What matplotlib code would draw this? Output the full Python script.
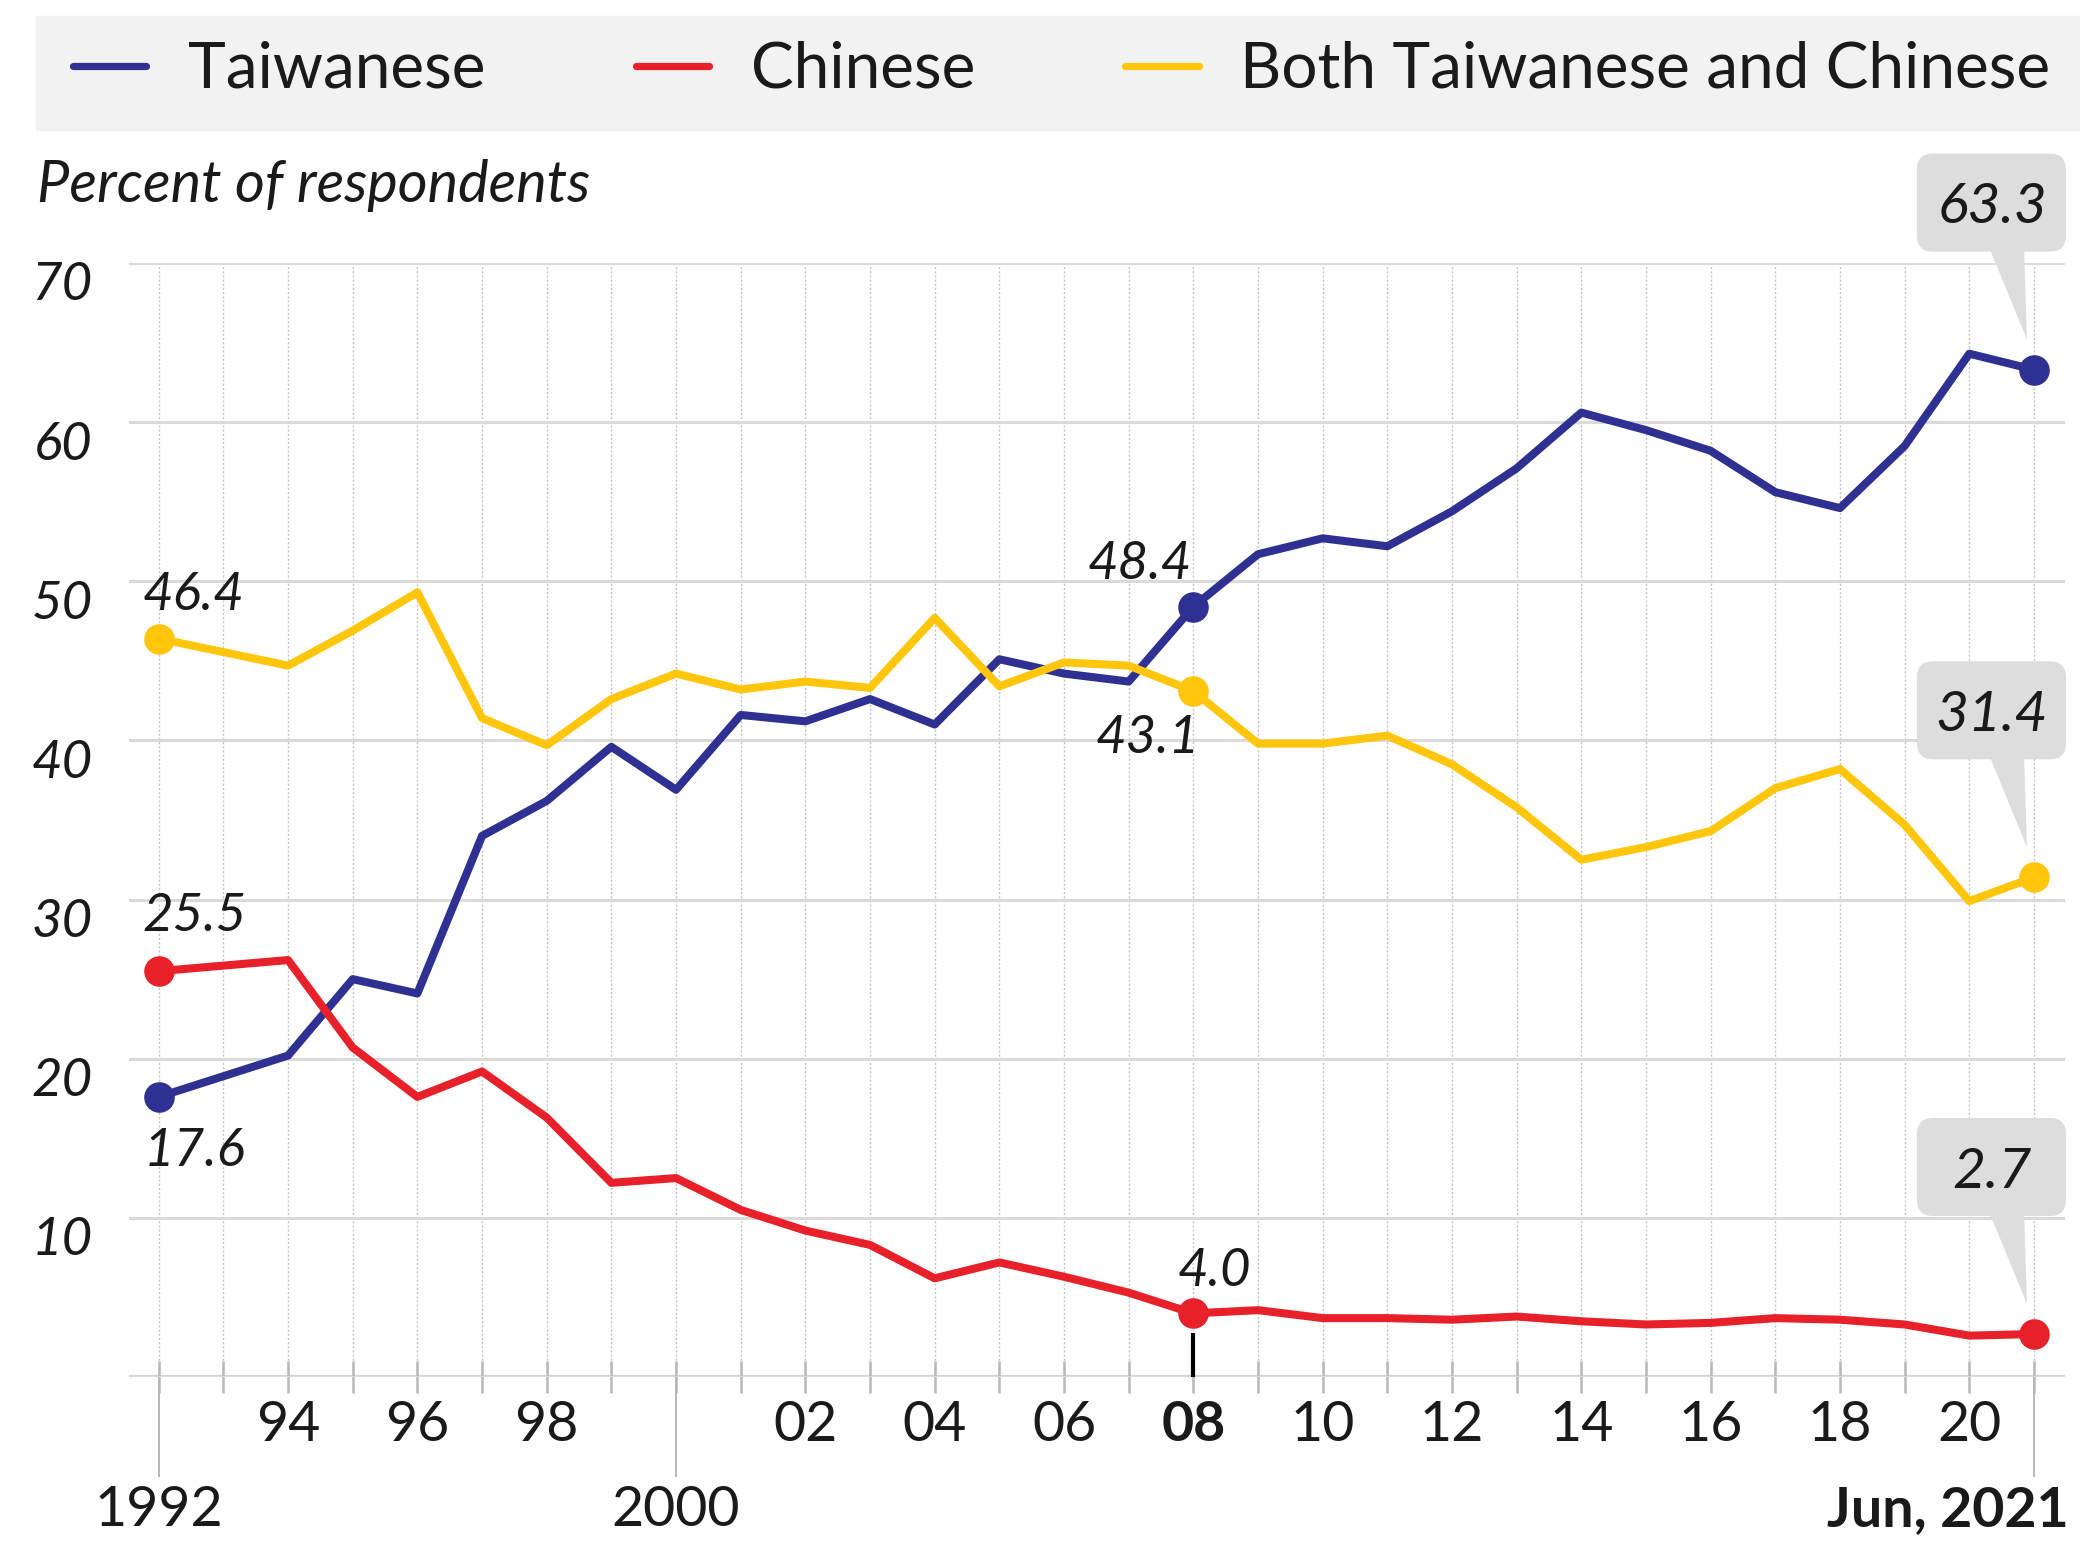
import matplotlib
matplotlib.use('Agg')
import matplotlib.pyplot as plt
import matplotlib.transforms as mtransforms
from matplotlib.patches import FancyBboxPatch, Polygon, Rectangle
from matplotlib.lines import Line2D

# survey years (no survey in 1993); last point is Jun 2021
years = [1992, 1994, 1995, 1996, 1997, 1998, 1999, 2000, 2001, 2002, 2003, 2004, 2005,
         2006, 2007, 2008, 2009, 2010, 2011, 2012, 2013, 2014, 2015, 2016, 2017, 2018,
         2019, 2020, 2021]
taiwanese = [17.6, 20.2, 25.0, 24.1, 34.0, 36.2, 39.6, 36.9, 41.6, 41.2, 42.6, 41.0, 45.1,
             44.2, 43.7, 48.4, 51.7, 52.7, 52.2, 54.4, 57.1, 60.6, 59.5, 58.2, 55.6, 54.6,
             58.5, 64.3, 63.3]
chinese = [25.5, 26.2, 20.7, 17.6, 19.2, 16.3, 12.2, 12.5, 10.5, 9.2, 8.3, 6.2, 7.2,
           6.3, 5.3, 4.0, 4.2, 3.7, 3.7, 3.6, 3.8, 3.5, 3.3, 3.4, 3.7, 3.6,
           3.3, 2.6, 2.7]
both = [46.4, 44.7, 46.9, 49.3, 41.4, 39.7, 42.6, 44.2, 43.2, 43.7, 43.3, 47.7, 43.4,
        44.9, 44.7, 43.1, 39.8, 39.8, 40.3, 38.5, 35.8, 32.5, 33.3, 34.3, 37.0, 38.2,
        34.7, 29.9, 31.4]

series_names = ['Taiwanese', 'Chinese', 'Both Taiwanese and Chinese']
colors = ['#2e3192', '#e8202a', '#ffc60b']

tick_years = [1992, 1993, 1994, 1995, 1996, 1997, 1998, 1999, 2000, 2001, 2002, 2003, 2004,
              2005, 2006, 2007, 2008, 2009, 2010, 2011, 2012, 2013, 2014, 2015, 2016, 2017,
              2018, 2019, 2020, 2021]
short_labels = {1994: '94', 1996: '96', 1998: '98', 2002: '02', 2004: '04', 2006: '06',
                2008: '08', 2010: '10', 2012: '12', 2014: '14', 2016: '16', 2018: '18',
                2020: '20'}
long_years = [1992, 2000, 2021]
long_labels = ['1992', '2000', 'Jun, 2021']
y_ticks = [0, 10, 20, 30, 40, 50, 60, 70]
highlight_year = 2008

TEXT = '#1a1a1a'
plt.rcParams['font.family'] = ['Lato', 'DejaVu Sans']

fig = plt.figure(figsize=(20.8, 15.42), dpi=100)
W, H = 2080, 1542
ax = fig.add_axes([129 / W, 1 - 1377 / H, (2065 - 129) / W, (1377 - 263) / H])
ax.set_xlim(1991.54, 2021.48)
ax.set_ylim(0, 70)
for s in ax.spines.values():
    s.set_visible(False)

# legend band
fig.add_artist(Rectangle((36 / W, 1 - 130 / H), 1 - 36 / W, 114 / H,
                         transform=fig.transFigure, color='#f2f2f2', zorder=0))
handles = [Line2D([], [], color=c, lw=5.2, solid_capstyle='round') for c in colors]
fig.legend(handles, series_names, loc='center left', bbox_to_anchor=(73 / W, 1 - 70 / H),
           ncol=3, frameon=False, fontsize=46, handlelength=1.15, handletextpad=0.65,
           columnspacing=2.35, borderpad=0, borderaxespad=0, labelcolor=TEXT)

fig.text(37 / W, 1 - 186 / H, 'Percent of respondents', style='italic', fontsize=41.5,
         color=TEXT, ha='left', va='center')

# grid
ax.set_yticks(y_ticks)
ax.grid(axis='y', color='#dadada', lw=2.2, zorder=0)
ax.axhline(0, color='#d4d4d4', lw=3, zorder=1)
ax.set_xticks(tick_years)
ax.grid(axis='x', which='major', color='#c4c4c4', lw=1.0, ls=(0, (1.5, 1.5)), zorder=0)
ax.set_xticks(long_years, minor=True)
ax.xaxis.remove_overlapping_locs = False

ax.tick_params(axis='y', length=0, pad=26, labelsize=38, labelcolor=TEXT)
ax.tick_params(axis='x', which='major', direction='inout', length=23, width=1.8,
               color='#b8b8b8', pad=5, labelsize=40, labelcolor=TEXT)
ax.tick_params(axis='x', which='minor', direction='out', length=72, width=1.4,
               color='#b8b8b8', pad=6, labelsize=40, labelcolor=TEXT)

ylabels = ax.set_yticklabels(['' if v == 0 else str(v) for v in y_ticks])
down = mtransforms.ScaledTranslation(0, -0.18, fig.dpi_scale_trans)
for lbl in ylabels:
    lbl.set_fontstyle('italic')
    lbl.set_transform(lbl.get_transform() + down)

xlabels = ax.set_xticklabels([short_labels.get(y, '') for y in tick_years])
for lbl in xlabels:
    if lbl.get_text() == short_labels[highlight_year]:
        lbl.set_fontweight('bold')
mlabels = ax.set_xticklabels(long_labels, minor=True)
mlabels[-1].set_fontweight('bold')
mlabels[-1].set_horizontalalignment('right')
mlabels[-1].set_transform(mlabels[-1].get_transform() +
                          mtransforms.ScaledTranslation(0.35, 0, fig.dpi_scale_trans))

# highlight tick for 2008
ax.vlines(highlight_year, 0, 2.76, color='black', lw=3, zorder=2)

# lines and markers
marked = [years.index(1992), years.index(highlight_year), len(years) - 1]
for vals, c in zip([taiwanese, chinese, both], colors):
    ax.plot(years, vals, color=c, lw=5.8, solid_joinstyle='round', solid_capstyle='round',
            zorder=3, clip_on=False)
    ax.plot([years[i] for i in marked], [vals[i] for i in marked], 'o', ms=21, color=c,
            zorder=4, clip_on=False)

# value labels (offsets in pixels)
label_offsets = [
    (both, 0, (35, 44)), (chinese, 0, (36, 55)), (taiwanese, 0, (36, -54)),
    (taiwanese, 1, (-54, 43)), (both, 1, (-46, -47)), (chinese, 1, (21, 42)),
]
for vals, k, off in label_offsets:
    i = marked[k]
    ax.annotate(f'{vals[i]:.1f}', (years[i], vals[i]), xytext=off, textcoords='offset pixels',
                ha='center', va='center', style='italic', fontsize=38, color=TEXT, zorder=6)


def callout(ax, x, y, text):
    trans = mtransforms.Affine2D() + mtransforms.ScaledTranslation(x, y, ax.transData)
    box = FancyBboxPatch((-117, 118), 149, 98, boxstyle='round,pad=0,rounding_size=16',
                         transform=trans, fc='#dddddd', ec='none', clip_on=False, zorder=5)
    tri = Polygon([(-46, 125), (-10, 125), (-7, 30)], closed=True, transform=trans,
                  fc='#dddddd', ec='none', clip_on=False, zorder=5)
    ax.add_artist(box)
    ax.add_artist(tri)
    ax.text(-42, 162, text, transform=trans, ha='center', va='center', style='italic',
            fontsize=41, color=TEXT, zorder=6)


for vals in [taiwanese, both, chinese]:
    callout(ax, years[-1], vals[-1], f'{vals[-1]:.1f}')

fig.savefig('out.png', dpi=100)
